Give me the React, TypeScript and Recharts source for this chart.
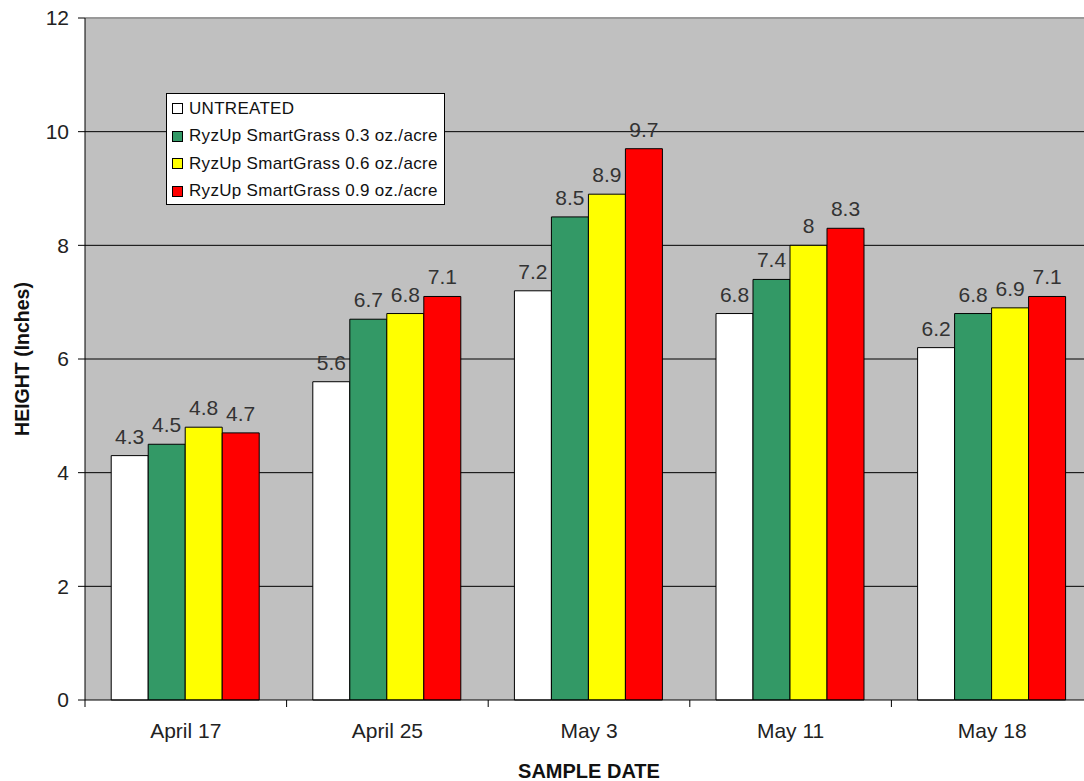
import React from "react";
import {
  BarChart,
  Bar,
  XAxis,
  YAxis,
  CartesianGrid,
  LabelList,
  ReferenceLine,
} from "recharts";

const dates = ["April 17", "April 25", "May 3", "May 11", "May 18"];
const untreated = [4.3, 5.6, 7.2, 6.8, 6.2];
const rate03 = [4.5, 6.7, 8.5, 7.4, 6.8];
const rate06 = [4.8, 6.8, 8.9, 8, 6.9];
const rate09 = [4.7, 7.1, 9.7, 8.3, 7.1];
const yTicks = [0, 2, 4, 6, 8, 10, 12];

const series = [
  { key: "untreated", name: "UNTREATED", color: "#ffffff" },
  { key: "r03", name: "RyzUp SmartGrass 0.3 oz./acre", color: "#339966" },
  { key: "r06", name: "RyzUp SmartGrass 0.6 oz./acre", color: "#ffff00" },
  { key: "r09", name: "RyzUp SmartGrass 0.9 oz./acre", color: "#ff0000" },
];

const data = dates.map((d, i) => ({
  date: d,
  untreated: untreated[i],
  r03: rate03[i],
  r06: rate06[i],
  r09: rate09[i],
}));

const FONT = "'Liberation Sans', Arial, sans-serif";
const CHART_W = 1093;
const PLOT_LEFT = 85;
const BAND = (CHART_W - PLOT_LEFT) / dates.length;

const DateTick = (props: any) => {
  const { x, payload, index } = props;
  const axisY = 700;
  return (
    <g>
      <line x1={x - BAND / 2} x2={x - BAND / 2} y1={axisY} y2={axisY + 7} stroke="#000" />
      {index === dates.length - 1 && (
        <line x1={x + BAND / 2} x2={x + BAND / 2} y1={axisY} y2={axisY + 7} stroke="#000" />
      )}
      <text x={x} y={axisY + 38} textAnchor="middle" fontSize={21} fill="#222" fontFamily={FONT}>
        {payload.value}
      </text>
    </g>
  );
};

const LegendBox = () => (
  <div
    style={{
      position: "absolute",
      left: 166,
      top: 93,
      border: "1px solid #000",
      background: "#fff",
      width: 277,
      height: 110,
      fontFamily: FONT,
      fontSize: 17,
      color: "#111",
      letterSpacing: 0.3,
      whiteSpace: "nowrap",
    }}
  >
    {series.map((s, i) => (
      <div
        key={s.key}
        style={{ display: "flex", alignItems: "center", height: 27.5, marginTop: i === 0 ? 1 : 0, paddingLeft: 5 }}
      >
        <span
          style={{
            display: "inline-block",
            width: 9,
            height: 9,
            background: s.color,
            border: "1px solid #000",
            marginRight: 6,
            flex: "none",
          }}
        />
        {s.name}
      </div>
    ))}
  </div>
);

export default function App() {
  return (
    <div
      style={{
        position: "fixed",
        left: 0,
        top: 0,
        width: 1084,
        height: 781,
        overflow: "hidden",
        background: "#fff",
      }}
    >
      <BarChart
        width={CHART_W}
        height={781}
        data={data}
        margin={{ top: 18, right: 0, bottom: 0, left: 0 }}
        barCategoryGap="13%"
        barGap={0}
      >
        <CartesianGrid
          vertical={false}
          stroke="#000"
          fill="#c0c0c0"
          fillOpacity={1}
          horizontalValues={[2, 4, 6, 8, 10]}
        />
        <ReferenceLine y={12} stroke="#999" strokeWidth={2} />
        <XAxis
          dataKey="date"
          stroke="#000"
          height={81}
          tickLine={false}
          tick={<DateTick />}
          interval={0}
          label={{
            value: "SAMPLE DATE",
            position: "insideBottom",
            offset: 3,
            style: { fontFamily: FONT, fontWeight: "bold", fontSize: 20, fill: "#111" },
          }}
        />
        <YAxis
          width={PLOT_LEFT}
          domain={[0, 12]}
          ticks={yTicks}
          stroke="#000"
          tickSize={7}
          tickMargin={9}
          tick={{ fontSize: 21, fill: "#222", fontFamily: FONT }}
          label={{
            value: "HEIGHT (Inches)",
            angle: -90,
            position: "insideLeft",
            offset: 22,
            style: { fontFamily: FONT, fontWeight: "bold", fontSize: 19.5, fill: "#111", textAnchor: "middle" },
          }}
        />
        {series.map((s) => (
          <Bar
            key={s.key}
            dataKey={s.key}
            name={s.name}
            fill={s.color}
            stroke="#000"
            strokeWidth={1}
            isAnimationActive={false}
          >
            <LabelList
              dataKey={s.key}
              position="top"
              offset={12}
              style={{ fontFamily: FONT, fontSize: 21, fill: "#333" }}
            />
          </Bar>
        ))}
      </BarChart>
      <LegendBox />
    </div>
  );
}
